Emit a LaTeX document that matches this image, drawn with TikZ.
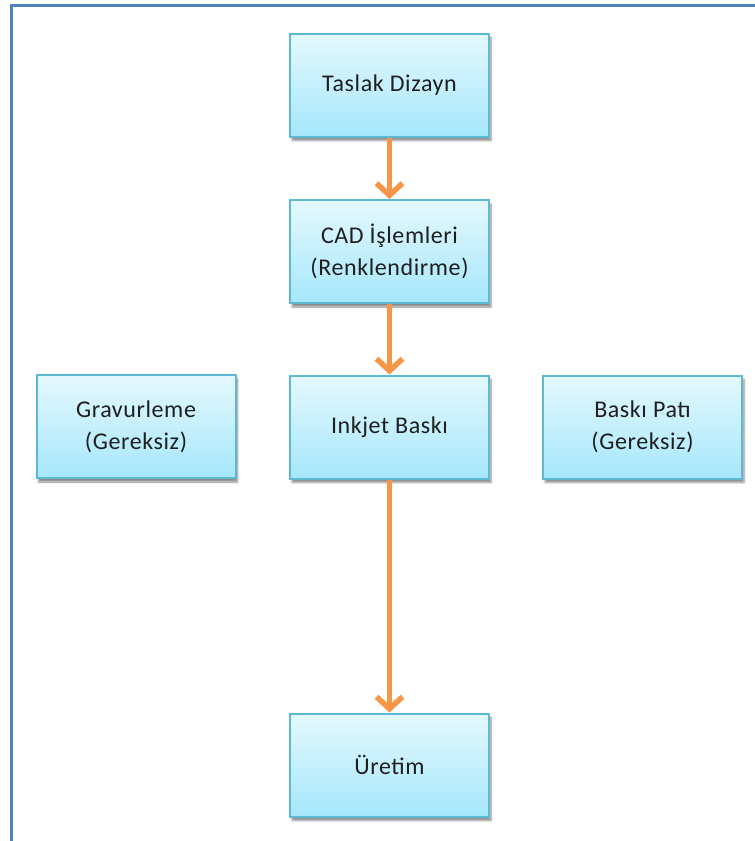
\documentclass[tikz,border=0pt]{standalone}
\usepackage{fontspec}
\setmainfont{Carlito}[LetterSpace=2.5]
\usetikzlibrary{arrows.meta,shadows.blur}

\definecolor{boxtop}{HTML}{E4F8FE}
\definecolor{boxbot}{HTML}{A6E7FB}
\definecolor{boxline}{HTML}{5DB9D1}
\definecolor{flow}{HTML}{F79646}
\definecolor{framecol}{HTML}{4F81BD}

\begin{document}
\begin{tikzpicture}[x=1pt,y=-1pt,
  stepbox/.style={draw=boxline, line width=2pt, top color=boxtop, bottom color=boxbot,
    minimum width=199pt, minimum height=103pt, align=center,
    font=\fontsize{24}{32}\selectfont, text=black!88,
    blur shadow={shadow xshift=2pt, shadow yshift=-4pt, shadow blur steps=6, shadow opacity=45}},
  flowarrow/.style={draw=flow, line width=5.5pt,
    -{Straight Barb[length=12pt,width=26pt]}}]
\useasboundingbox (0,0) rectangle (755,841);

% page frame
\draw[framecol, line width=3pt] (755,5.5) -- (11.5,5.5) -- (11.5,841);

% process steps
\node[stepbox] (taslak) at (389.5,85)    {Taslak Dizayn};
\node[stepbox] (cad)    at (389.5,251.5) {CAD İşlemleri\\(Renklendirme)};
\node[stepbox] (inkjet) at (389.5,427)   {Inkjet Baskı};
\node[stepbox] (gravur) at (136,426.5)   {Gravurleme\\(Gereksiz)};
\node[stepbox] (baski)  at (642.5,427)   {Baskı Patı\\(Gereksiz)};
\node[stepbox] (uretim) at (389.5,765)   {Üretim};

% flow
\draw[flowarrow] (taslak) -- (cad);
\draw[flowarrow] (cad) -- (inkjet);
\draw[flowarrow] (inkjet) -- (uretim);
\end{tikzpicture}
\end{document}
